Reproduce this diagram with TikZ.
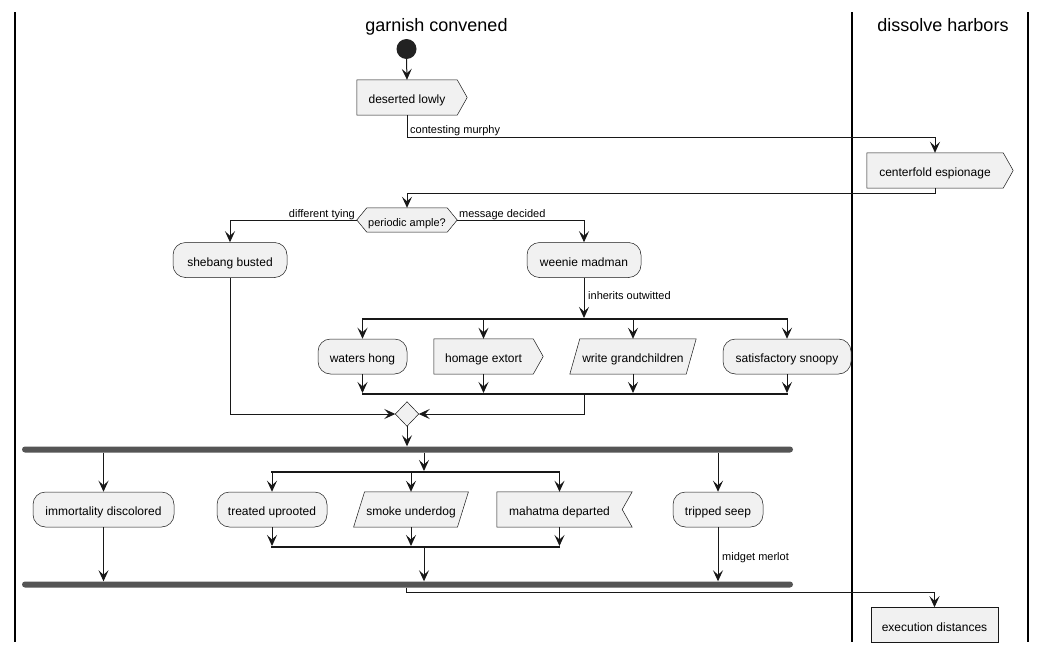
\documentclass[tikz,border=0pt]{standalone}
\usepackage{fontspec}
\setmainfont{Liberation Sans}
\usetikzlibrary{arrows.meta,backgrounds}
\definecolor{boxfill}{HTML}{F1F1F1}
\definecolor{boxline}{HTML}{181818}
\definecolor{barc}{HTML}{555555}
\definecolor{dotc}{HTML}{222222}
\begin{document}
\begin{tikzpicture}[x=1pt,y=-1pt,
  nodefont/.style={font=\fontsize{12}{14}\selectfont},
  lblfont/.style={font=\fontsize{11}{13}\selectfont},
  actbody/.style={inner sep=0pt, minimum height=35pt, text height=12pt, text depth=0pt, nodefont, text=black},
  rbox/.style={actbody, draw=boxline, fill=boxfill, line width=0.5pt, rounded corners=12.5pt},
  pbox/.style={actbody, draw=boxline, fill=boxfill, line width=0.5pt},
  shp/.style={draw=boxline, fill=boxfill, line width=0.5pt, line join=miter},
  conn/.style={draw=boxline, line width=1pt, -{Stealth[length=11pt,width=10pt,inset=4.5pt]}},
  lbl/.style={lblfont, inner sep=0pt, text=black},
  splitbar/.style={inner sep=0pt, minimum height=1.6pt, fill=boxline},
  syncbar/.style={inner sep=0pt, minimum height=6pt, fill=barc, rounded corners=3pt},
  lanerule/.style={draw=black, line width=1.3pt},
  lanetitle/.style={font=\fontsize{18}{21}\selectfont, inner sep=0pt, anchor=base, text=black}
]
\useasboundingbox (0,0) rectangle (1047,653);
\begin{pgfonlayer}{background}
\fill[white] (0,0) rectangle (1047,653);
\end{pgfonlayer}

% swimlanes
\draw[lanerule] (15,12) -- (15,642);
\draw[lanerule] (852,12) -- (852,642);
\draw[lanerule] (1028,12) -- (1028,642);
\node[lanetitle] (t1) at (436.5,31) {garnish convened};
\node[lanetitle] (t2) at (943,31) {dissolve harbors};

% nodes
\node[circle, fill=dotc, minimum size=20pt, inner sep=0pt] (st) at (406.5,49) {};
\node[actbody, minimum width=100pt] (dl) at (407,97.5) {deserted lowly};
\node[actbody, minimum width=136pt] (ce) at (935,170.5) {centerfold espionage};
\node[actbody, minimum width=80pt, minimum height=24pt, text height=12pt, lblfont] (hx) at (407,220) {periodic ample?};
\node[rbox, minimum width=114pt] (sb) at (230,260) {shebang busted};
\node[rbox, minimum width=114pt] (wm) at (584,260) {weenie madman};
\node[splitbar, minimum width=426pt] (fb1) at (574.5,319) {};
\node[rbox, minimum width=89pt] (wh) at (362.5,356.5) {waters hong};
\node[actbody, minimum width=99pt] (he) at (483.5,356.5) {homage extort};
\node[actbody, minimum width=116pt] (wg) at (633,356.5) {write grandchildren};
\node[rbox, minimum width=128pt] (ss) at (787,356.5) {satisfactory snoopy};
\node[splitbar, minimum width=426pt] (jb1) at (574.5,394) {};
\node[inner sep=0pt, minimum width=23pt, minimum height=24pt] (mg) at (407,414) {};
\node[syncbar, minimum width=771pt] (fk1) at (407.5,449.5) {};
\node[rbox, minimum width=141pt] (id) at (103.5,509.5) {immortality discolored};
\node[splitbar, minimum width=289pt] (fb2) at (415.75,472) {};
\node[rbox, minimum width=110pt] (tu) at (272,509.5) {treated uprooted};
\node[actbody, minimum width=103.5pt] (su) at (411,509.5) {smoke underdog};
\node[actbody, minimum width=125pt] (md) at (559.5,509.5) {mahatma departed};
\node[rbox, minimum width=90pt] (ts) at (718,509.5) {tripped seep};
\node[splitbar, minimum width=289pt] (jb2) at (415.75,547) {};
\node[syncbar, minimum width=771pt] (fk2) at (407.5,584.5) {};
\node[pbox, minimum width=127pt] (ed) at (934.5,625) {execution distances};

% custom outlines
\begin{pgfonlayer}{background}
\path[shp] (dl.north west) -- (dl.north east) -- ([xshift=10pt]dl.east) -- (dl.south east) -- (dl.south west) -- cycle;
\path[shp] (ce.north west) -- (ce.north east) -- ([xshift=10pt]ce.east) -- (ce.south east) -- (ce.south west) -- cycle;
\path[shp] (he.north west) -- (he.north east) -- ([xshift=10pt]he.east) -- (he.south east) -- (he.south west) -- cycle;
\path[shp] (hx.north west) -- (hx.north east) -- ([xshift=10pt]hx.east) -- (hx.south east) -- (hx.south west) -- ([xshift=-10pt]hx.west) -- cycle;
\path[shp] ([xshift=-5pt]wg.south west) -- ([xshift=-5pt]wg.south east) -- ([xshift=5pt]wg.north east) -- ([xshift=5pt]wg.north west) -- cycle;
\path[shp] ([xshift=-5.5pt]su.south west) -- ([xshift=-5.5pt]su.south east) -- ([xshift=5.5pt]su.north east) -- ([xshift=5.5pt]su.north west) -- cycle;
\path[shp] (md.north west) -- ([xshift=10pt]md.north east) -- (md.east) -- ([xshift=10pt]md.south east) -- (md.south west) -- cycle;
\path[shp] (mg.north) -- (mg.east) -- (mg.south) -- (mg.west) -- cycle;
\end{pgfonlayer}

% labels
\node[lbl, anchor=base west] (lab1) at (410,133.3) {contesting murphy};
\node[lbl, anchor=base east] (lab2) at (355,217.3) {different tying};
\node[lbl, anchor=base west] (lab3) at (459,217.3) {message decided};
\node[lbl, anchor=base west] (lab4) at (588,299.3) {inherits outwitted};
\node[lbl, anchor=base west] (lab5) at (722,560) {midget merlot};

% connectors
\draw[conn] (st.south) -- (dl.north);
\coordinate (k1) at (935,137.5);
\draw[conn] (dl.south) |- (k1) -- (ce.north);
\coordinate (k2) at (407,193);
\draw[conn] (ce.south) |- (k2) -- (hx.north);
\draw[conn] ([xshift=-10pt]hx.west) -| (sb.north);
\draw[conn] ([xshift=10pt]hx.east) -| (wm.north);
\draw[conn] (wm.south) -- (wm.south |- fb1.north);
\foreach \n in {wh,he,wg,ss} \draw[conn] (\n.north |- fb1.south) -- (\n.north);
\foreach \n in {wh,he,wg,ss} \draw[conn] (\n.south) -- (\n.south |- jb1.north);
\draw[conn] (wm.south |- jb1.south) |- (mg.east);
\draw[conn] (sb.south) |- (mg.west);
\draw[conn] (mg.south) -- (mg.south |- fk1.north);
\draw[conn] (id.north |- fk1.south) -- (id.north);
\coordinate (p2) at (424,0);
\draw[conn] (p2 |- fk1.south) -- (p2 |- fb2.north);
\draw[conn] (ts.north |- fk1.south) -- (ts.north);
\foreach \n in {tu,su,md} \draw[conn] (\n.north |- fb2.south) -- (\n.north);
\foreach \n in {tu,su,md} \draw[conn] (\n.south) -- (\n.south |- jb2.north);
\draw[conn] (p2 |- jb2.south) -- (p2 |- fk2.north);
\draw[conn] (id.south) -- (id.south |- fk2.north);
\draw[conn] (ts.south) -- (ts.south |- fk2.north);
\coordinate (p3) at (406,0);
\coordinate (k3) at (934.5,592);
\draw[conn] (p3 |- fk2.south) |- (k3) -- (ed.north);
\end{tikzpicture}
\end{document}
